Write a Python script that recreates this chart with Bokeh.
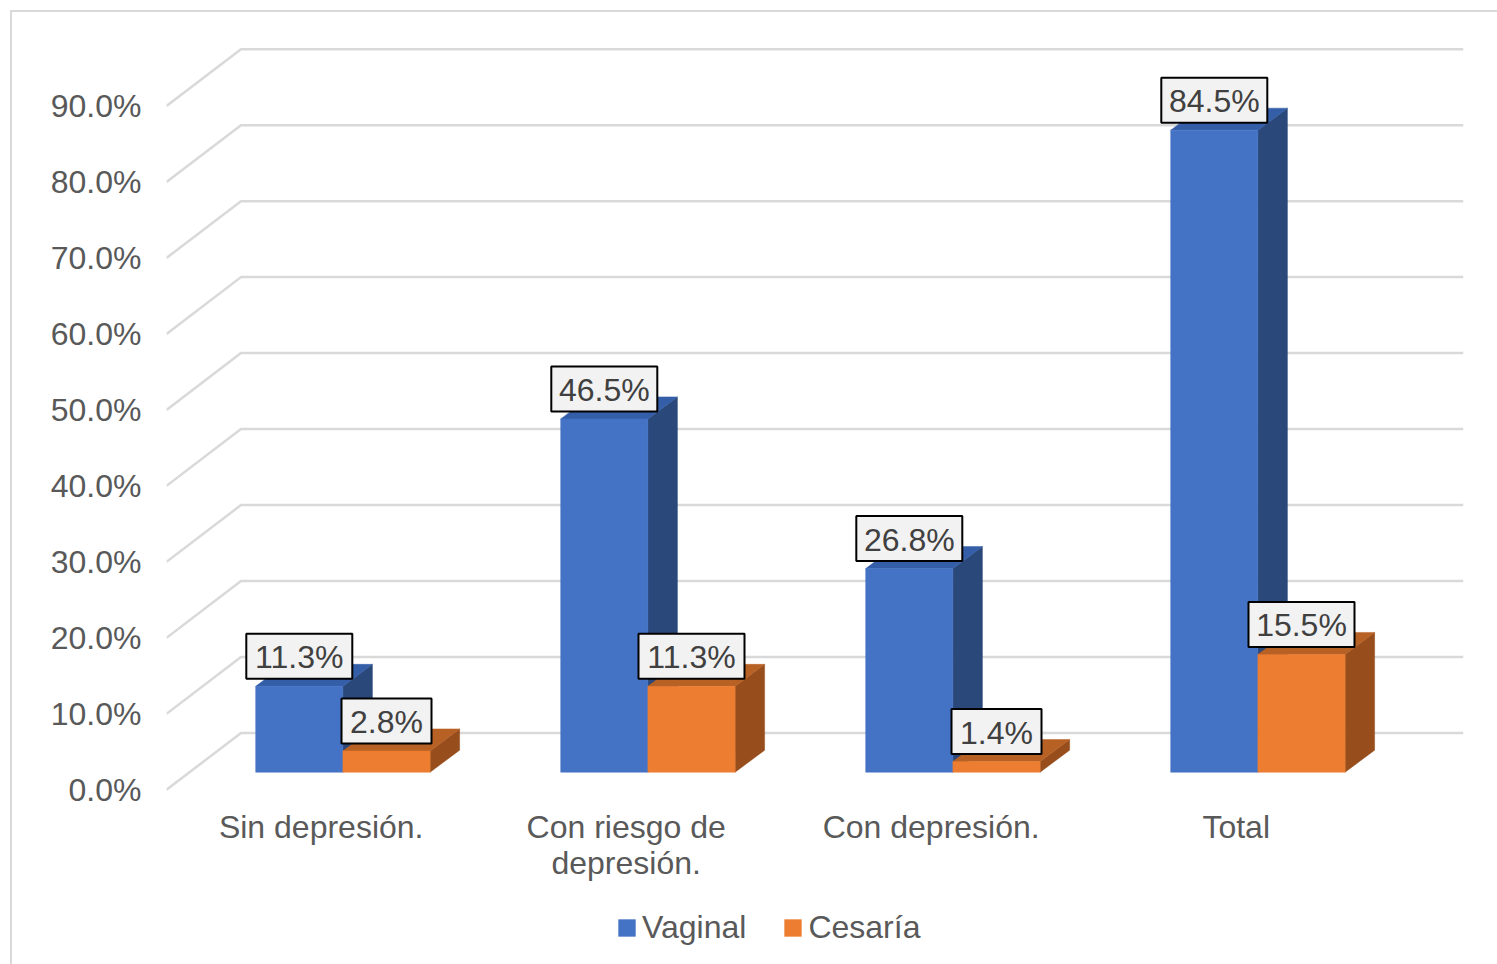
from bokeh.plotting import figure
from bokeh.models import FixedTicker, Legend, LegendItem, ColumnDataSource
from bokeh.core.properties import value
from bokeh.embed import file_html
from bokeh.resources import INLINE

categories = ["Sin depresión.", "Con riesgo de\ndepresión.", "Con depresión.", "Total"]
vaginal = [11.3, 46.5, 26.8, 84.5]
cesaria = [2.8, 11.3, 1.4, 15.5]
y_ticks = [0, 10, 20, 30, 40, 50, 60, 70, 80, 90]
y_tick_labels = ["0.0%", "10.0%", "20.0%", "30.0%", "40.0%", "50.0%", "60.0%", "70.0%", "80.0%", "90.0%"]

FONT = "Liberation Sans"
PX_Y = 7.598            # pixels per percent point
PX_X = 305.0            # pixels per category
FRAME_W, FRAME_H = 1297, 952
AXIS_BOTTOM_PX = 174.7  # pixels from frame bottom to the 0% tick
LEFT_PX = 154.7         # pixels from frame left to first category label

dx_bar, dy_bar = 29.5 / PX_X, 22 / PX_Y
bar_w = 87.2 / PX_X
bar_shift = 21.7 / PX_X
floor_up = 17.6 / PX_Y
back_up = 56.8 / PX_Y
back_x = 74.5 / PX_X
cat_label_top = -19 / PX_Y

x_start = -LEFT_PX / PX_X
x_end = x_start + FRAME_W / PX_X
y_start = -AXIS_BOTTOM_PX / PX_Y
y_end = y_start + FRAME_H / PX_Y

p = figure(frame_width=FRAME_W, frame_height=FRAME_H, output_backend="svg", toolbar_location=None,
           x_range=(x_start, x_end), y_range=(y_start, y_end), x_axis_location=None,
           min_border_left=154, min_border_right=34, min_border_top=0,
           min_border_bottom=0, outline_line_color=None)
p.margin = (10, 0, 0, 10)
p.styles = {"border-top": "2px solid #D9D9D9", "border-left": "2px solid #D9D9D9"}
p.grid.grid_line_color = None

# walls
p.multi_line(xs=[[x_start, x_start + back_x, x_end] for _ in y_ticks],
             ys=[[t, t + back_up, t + back_up] for t in y_ticks],
             line_color="#D9D9D9", line_width=2.5)

def draw_series(vals, offset, front, top, side):
    lefts = [i + bar_shift + offset * bar_w for i in range(len(vals))]
    rights = [l + bar_w for l in lefts]
    sides_x = [[r, r + dx_bar, r + dx_bar, r] for r in rights]
    sides_y = [[floor_up, floor_up + dy_bar, floor_up + v + dy_bar, floor_up + v] for v in vals]
    tops_x = [[l, l + dx_bar, r + dx_bar, r] for l, r in zip(lefts, rights)]
    tops_y = [[floor_up + v, floor_up + v + dy_bar, floor_up + v + dy_bar, floor_up + v] for v in vals]
    p.patches(sides_x, sides_y, fill_color=side, line_color=side, line_width=0.5)
    p.patches(tops_x, tops_y, fill_color=top, line_color=top, line_width=0.5)
    src = ColumnDataSource(dict(left=lefts, right=rights, top=[floor_up + v for v in vals],
                                bottom=[floor_up] * len(vals)))
    return p.quad(left="left", right="right", top="top", bottom="bottom", source=src,
                  fill_color=front, line_color=front, line_width=0.5)

r_v = draw_series(vaginal, -1, "#4472C4", "#355EA8", "#2A4879")
r_c = draw_series(cesaria, 0, "#ED7D31", "#B86125", "#974E1C")

def draw_labels(vals, offset):
    xs = [i + bar_shift + (offset + 0.5) * bar_w for i in range(len(vals))]
    ys = [floor_up + v + 30 / PX_Y for v in vals]
    txt = [f"{v:.1f}%" for v in vals]
    widths = [106 if len(t) == 5 else 90 for t in txt]
    p.rect(xs, ys, width=widths, height=45, width_units="screen", height_units="screen",
           fill_color="#F2F2F2", line_color="#000000", line_width=2)
    p.text(xs, ys, text=txt, text_align="center", text_baseline="middle", y_offset=1,
           text_font=value(FONT), text_font_size=value("32px"), text_color="#404040")

draw_labels(vaginal, -1)
draw_labels(cesaria, 0)

# category labels
p.text(list(range(len(categories))), [cat_label_top] * len(categories), text=categories,
       text_align="center", text_baseline="top", text_line_height=1.0,
       text_font=value(FONT), text_font_size=value("32px"), text_color="#595959")

# value axis
ax = p.yaxis[0]
ax.ticker = FixedTicker(ticks=y_ticks)
ax.major_label_overrides = {t: s for t, s in zip(y_ticks, y_tick_labels)}
ax.axis_line_color = None
ax.major_tick_line_color = None
ax.minor_tick_line_color = None
ax.major_tick_out = 0
ax.major_tick_in = 0
ax.major_label_text_font = FONT
ax.major_label_text_font_size = "32px"
ax.major_label_text_color = "#595959"
ax.major_label_standoff = 25

legend = Legend(items=[LegendItem(label="Vaginal", renderers=[r_v]),
                       LegendItem(label="Cesaría", renderers=[r_c])],
                orientation="horizontal", location=(450, 18),
                glyph_width=21, glyph_height=21, label_standoff=5, spacing=36,
                padding=0, margin=0, border_line_color=None, background_fill_alpha=0,
                label_text_font=FONT, label_text_font_size="32px", label_text_color="#595959")
p.add_layout(legend, "center")

open("out.html", "w").write(file_html(p, INLINE))
